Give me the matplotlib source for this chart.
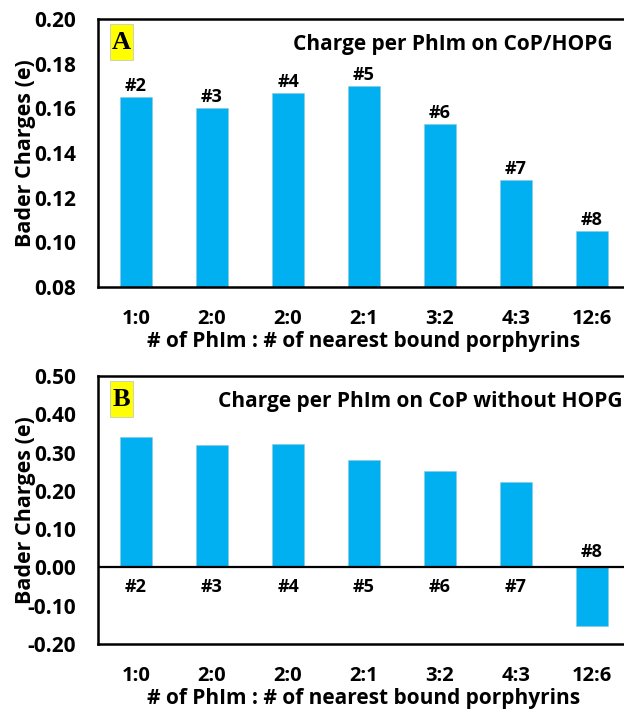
import matplotlib
matplotlib.use('Agg')
import matplotlib.pyplot as plt
from matplotlib.patches import Rectangle

plt.rcParams['font.family'] = ['Open Sans', 'DejaVu Sans']
plt.rcParams['font.weight'] = 'bold'

# Bader charge per PhIm, with and without the HOPG substrate
ratios = ['1:0', '2:0', '2:0', '2:1', '3:2', '4:3', '12:6']
sites = ['#2', '#3', '#4', '#5', '#6', '#7', '#8']
charge_hopg = [0.165, 0.160, 0.167, 0.170, 0.153, 0.128, 0.105]
charge_free = [0.34, 0.32, 0.323, 0.28, 0.251, 0.222, -0.153]

bar_color = '#00B0F0'
xlab = '# of PhIm : # of nearest bound porphyrins'

fig = plt.figure(figsize=(6.24, 7.13), dpi=100)
axA = fig.add_axes([98/624, 1-287/713, 532/624, 268/713])
axB = fig.add_axes([98/624, 1-644/713, 532/624, 268/713])


def style(ax, ylim, yticks, title, letter, title_x):
    ax.set_xlim(-0.5, len(ratios) - 0.5)
    ax.set_ylim(*ylim)
    ax.set_yticks(yticks)
    ax.set_yticklabels(['%.2f' % t for t in yticks])
    ax.set_xticks(range(len(ratios)))
    ax.set_xticklabels(ratios, fontsize=14.5)
    ax.tick_params(axis='both', length=0)
    ax.tick_params(axis='y', pad=16, labelsize=15)
    ax.tick_params(axis='x', pad=16)
    for s in ax.spines.values():
        s.set_linewidth(1.8)
    ax.set_ylabel('Bader Charges (e)', fontsize=15.5, fontweight='bold', va='center')
    ax.yaxis.set_label_coords(-0.137, 0.5)
    ax.set_xlabel(xlab, fontsize=15, fontweight='bold', labelpad=1)
    ax.text(title_x, 0.903, title, transform=ax.transAxes, ha='right',
            va='center', fontsize=15, fontweight='bold')
    ax.add_patch(Rectangle((0.0226, 0.847), 0.043, 0.134, transform=ax.transAxes,
                           facecolor='#FFFF00', edgecolor='#c8c8c8', lw=0.6))
    ax.text(0.0442, 0.912, letter, transform=ax.transAxes, ha='center',
            va='center', fontsize=19, fontweight='bold',
            family='Liberation Serif')


# panel A
axA.bar(range(len(ratios)), charge_hopg, width=0.41, color=bar_color,
        edgecolor='#8fc6dc', linewidth=0.4, bottom=0, zorder=2)
for i, v in enumerate(charge_hopg):
    axA.annotate(sites[i], (i, v), xytext=(0, 8), textcoords='offset points',
                 ha='center', va='center', fontsize=13, fontweight='bold')
style(axA, (0.08, 0.20), [0.08, 0.10, 0.12, 0.14, 0.16, 0.18, 0.20],
      'Charge per PhIm on CoP/HOPG', 'A', 0.968)

# panel B
axB.bar(range(len(ratios)), charge_free, width=0.41, color=bar_color,
        edgecolor='#8fc6dc', linewidth=0.4, zorder=2)
axB.axhline(0, color='black', lw=1.6, zorder=3)
for i, v in enumerate(charge_free):
    off = 11 if v < 0 else -14
    axB.annotate(sites[i], (i, 0), xytext=(0, off), textcoords='offset points',
                 ha='center', va='center', fontsize=13, fontweight='bold')
style(axB, (-0.20, 0.50), [-0.20, -0.10, 0.0, 0.10, 0.20, 0.30, 0.40, 0.50],
      'Charge per PhIm on CoP without HOPG', 'B', 0.985)

fig.savefig('out.png', dpi=100)
